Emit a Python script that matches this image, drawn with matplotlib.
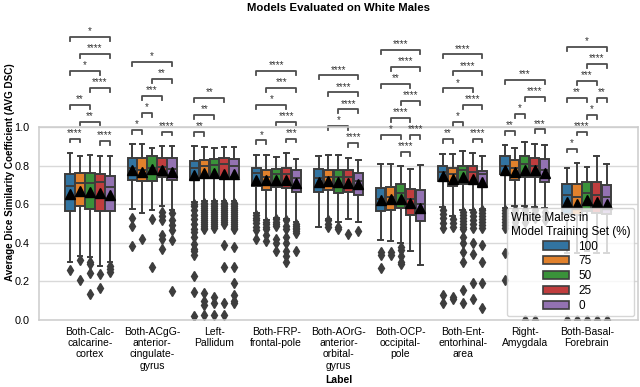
import colorsys
import matplotlib.pyplot as plt
import matplotlib.colors as mcolors
from matplotlib.patches import Patch

plt.rcParams['font.family'] = ['Liberation Sans', 'DejaVu Sans']

labels = ["Both-Calc-\ncalcarine-\ncortex", "Both-ACgG-\nanterior-\ncingulate-\ngyrus",
          "Left-\nPallidum", "Both-FRP-\nfrontal-pole", "Both-AOrG-\nanterior-\norbital-\ngyrus",
          "Both-OCP-\noccipital-\npole", "Both-Ent-\nentorhinal-\narea", "Right-\nAmygdala",
          "Both-Basal-\nForebrain"]
hues = ["100", "75", "50", "25", "0"]
base_colors = ["#1f77b4", "#ff7f0e", "#2ca02c", "#d62728", "#9467bd"]

# box statistics, one row per label, one column per hue
whis_hi = [[0.867, 0.852, 0.858, 0.853, 0.852],
           [0.912, 0.912, 0.895, 0.903, 0.903],
           [0.901, 0.898, 0.895, 0.898, 0.898],
           [0.858, 0.855, 0.846, 0.867, 0.837],
           [0.849, 0.855, 0.855, 0.843, 0.832],
           [0.812, 0.812, 0.798, 0.786, 0.803],
           [0.864, 0.864, 0.877, 0.867, 0.850],
           [0.907, 0.895, 0.924, 0.915, 0.907],
           [0.791, 0.815, 0.794, 0.850, 0.808]]
q3 = [[0.758, 0.763, 0.763, 0.760, 0.748],
      [0.843, 0.839, 0.850, 0.843, 0.839],
      [0.826, 0.833, 0.834, 0.841, 0.834],
      [0.791, 0.781, 0.786, 0.791, 0.781],
      [0.786, 0.777, 0.777, 0.781, 0.763],
      [0.687, 0.691, 0.705, 0.682, 0.673],
      [0.798, 0.791, 0.798, 0.798, 0.774],
      [0.850, 0.832, 0.850, 0.843, 0.837],
      [0.705, 0.705, 0.717, 0.717, 0.700]]
med = [[0.695, 0.710, 0.710, 0.715, 0.690],
       [0.790, 0.780, 0.790, 0.795, 0.785],
       [0.790, 0.800, 0.805, 0.810, 0.800],
       [0.765, 0.745, 0.760, 0.760, 0.735],
       [0.735, 0.740, 0.740, 0.740, 0.720],
       [0.630, 0.640, 0.660, 0.630, 0.600],
       [0.770, 0.760, 0.780, 0.770, 0.760],
       [0.800, 0.790, 0.810, 0.800, 0.780],
       [0.650, 0.640, 0.660, 0.650, 0.640]]
q1 = [[0.566, 0.591, 0.575, 0.566, 0.566],
      [0.725, 0.722, 0.722, 0.743, 0.725],
      [0.734, 0.742, 0.742, 0.745, 0.740],
      [0.694, 0.677, 0.691, 0.687, 0.665],
      [0.665, 0.677, 0.660, 0.665, 0.648],
      [0.566, 0.573, 0.584, 0.544, 0.515],
      [0.722, 0.694, 0.705, 0.705, 0.694],
      [0.756, 0.725, 0.743, 0.743, 0.717],
      [0.550, 0.545, 0.565, 0.555, 0.550]]
whis_lo = [[0.299, 0.332, 0.325, 0.282, 0.299],
           [0.575, 0.558, 0.570, 0.591, 0.573],
           [0.614, 0.618, 0.620, 0.620, 0.617],
           [0.553, 0.518, 0.532, 0.527, 0.509],
           [0.484, 0.527, 0.509, 0.522, 0.509],
           [0.414, 0.411, 0.401, 0.359, 0.285],
           [0.587, 0.539, 0.570, 0.570, 0.578],
           [0.583, 0.590, 0.590, 0.587, 0.580],
           [0.350, 0.350, 0.360, 0.350, 0.350]]
means = [[0.656, 0.668, 0.665, 0.660, 0.647],
         [0.777, 0.770, 0.782, 0.780, 0.770],
         [0.752, 0.763, 0.763, 0.760, 0.756],
         [0.729, 0.725, 0.729, 0.725, 0.711],
         [0.717, 0.722, 0.717, 0.711, 0.704],
         [0.622, 0.630, 0.630, 0.608, 0.584],
         [0.746, 0.734, 0.740, 0.734, 0.717],
         [0.780, 0.768, 0.777, 0.777, 0.763],
         [0.613, 0.601, 0.625, 0.613, 0.604]]
fliers = [
    [[0.26], [0.31, 0.21], [0.30, 0.29, 0.245, 0.135], [0.24, 0.165], [0.28, 0.265, 0.25]],
    [[0.532, 0.487, 0.384], [0.423], [0.527, 0.276],
     [0.56, 0.54, 0.52, 0.44, 0.42, 0.37], [0.556, 0.518, 0.492, 0.466, 0.414, 0.152]],
    [[0.60, 0.59, 0.57, 0.544, 0.522, 0.50, 0.475, 0.458, 0.432, 0.397, 0.371, 0.359, 0.337, 0.228, 0.147, 0.02],
     [0.61, 0.60, 0.59, 0.58, 0.57, 0.56, 0.55, 0.54, 0.53, 0.52, 0.51, 0.50, 0.49, 0.48, 0.47, 0.138, 0.10, 0.078, 0.026],
     [0.61, 0.60, 0.59, 0.58, 0.57, 0.56, 0.55, 0.54, 0.53, 0.52, 0.51, 0.50, 0.49, 0.48, 0.12, 0.086, 0.026],
     [0.61, 0.60, 0.59, 0.58, 0.57, 0.56, 0.55, 0.54, 0.53, 0.52, 0.51, 0.50, 0.391, 0.275, 0.087, 0.026],
     [0.61, 0.60, 0.59, 0.58, 0.57, 0.56, 0.55, 0.54, 0.53, 0.52, 0.51, 0.50, 0.49, 0.48, 0.47, 0.381, 0.275, 0.194, 0.13, 0.10, 0.09]],
    [[0.544, 0.532, 0.518, 0.504, 0.484, 0.466, 0.423], [0.509, 0.497, 0.484, 0.47, 0.44, 0.411],
     [0.525, 0.51, 0.50, 0.49, 0.42, 0.40, 0.36], [0.52, 0.49, 0.47, 0.43, 0.40, 0.36, 0.33, 0.30],
     [0.50, 0.49, 0.48, 0.47, 0.46, 0.45, 0.36]],
    [[], [0.518, 0.501, 0.484], [0.484, 0.47], [0.446], [0.463]],
    [[0.354, 0.337, 0.268], [0.354, 0.337], [0.38, 0.363, 0.332, 0.303, 0.291], [], []],
    [[0.573, 0.552, 0.531, 0.504, 0.48, 0.13, 0.09], [0.527, 0.504, 0.484, 0.12, 0.11],
     [0.56, 0.545, 0.53, 0.515, 0.50, 0.485, 0.47, 0.43, 0.40, 0.355, 0.30, 0.155, 0.086],
     [0.56, 0.54, 0.52, 0.50, 0.48, 0.40, 0.345, 0.19, 0.11],
     [0.57, 0.555, 0.54, 0.525, 0.51, 0.495, 0.48, 0.39, 0.30, 0.19, 0.06]],
    [[0.57, 0.555, 0.54, 0.525, 0.51, 0.495, 0.48, 0.35, 0.21], [0.57, 0.55, 0.53, 0.51, 0.49],
     [0.57, 0.55, 0.53, 0.51, 0.0], [0.57, 0.55, 0.53, 0.0], [0.56, 0.54, 0.52]],
    [[0.0], [0.0], [0.0], [0.0], [0.0]],
]

# significance annotations: (box i, box j, stars), in drawing order
annotations = [
    [(0, 1, "****"), (3, 4, "****"), (1, 3, "**"), (0, 2, "**"), (2, 4, "****"), (0, 3, "*"), (1, 4, "****"), (0, 4, "*")],
    [(0, 1, "*"), (3, 4, "****"), (1, 2, "*"), (1, 3, "***"), (2, 4, "**"), (0, 4, "*")],
    [(0, 1, "**"), (0, 2, "**"), (0, 3, "**")],
    [(0, 1, "*"), (3, 4, "***"), (2, 4, "****"), (0, 3, "*"), (1, 4, "***"), (0, 4, "****")],
    [(3, 4, "****"), (1, 3, "*"), (2, 4, "****"), (1, 4, "****"), (0, 4, "****")],
    [(2, 3, "****"), (0, 2, "*"), (3, 4, "****"), (1, 3, "****"), (2, 4, "****"), (0, 3, "**"), (1, 4, "****"), (0, 4, "****")],
    [(0, 1, "**"), (3, 4, "****"), (1, 2, "*"), (2, 4, "****"), (0, 3, "*"), (1, 4, "****"), (0, 4, "****")],
    [(0, 1, "**"), (3, 4, "***"), (1, 2, "*"), (2, 4, "****"), (0, 4, "***")],
    [(0, 1, "*"), (1, 2, "****"), (2, 3, "*"), (0, 2, "**"), (3, 4, "**"), (1, 3, "***"), (2, 4, "****"), (0, 4, "*")],
]


def desaturate(c, prop=0.75):
    h, l, s = colorsys.rgb_to_hls(*mcolors.to_rgb(c))
    return colorsys.hls_to_rgb(h, l, s * prop)


colors = [desaturate(c) for c in base_colors]
gray = (0.24, 0.24, 0.24)
offsets = [-0.32, -0.16, 0.0, 0.16, 0.32]

fig = plt.figure(figsize=(6.4, 3.87), dpi=100)
ax = fig.add_axes([0.0609, 0.1731, 0.936, 0.4977])

stats, positions, facecols = [], [], []
for g in range(len(labels)):
    for h in range(len(hues)):
        stats.append(dict(whislo=whis_lo[g][h], q1=q1[g][h], med=med[g][h], q3=q3[g][h],
                          whishi=whis_hi[g][h], mean=means[g][h], fliers=fliers[g][h]))
        positions.append(g + offsets[h])
        facecols.append(colors[h])

line_kw = dict(color=gray, linewidth=1.4)
bp = ax.bxp(stats, positions=positions, widths=0.15, patch_artist=True, showmeans=True,
            boxprops=dict(edgecolor=gray, linewidth=1.4),
            whiskerprops=line_kw, capprops=line_kw, medianprops=line_kw,
            meanprops=dict(marker="^", markerfacecolor="black", markeredgecolor="black", markersize=7),
            flierprops=dict(marker="d", markerfacecolor=gray, markeredgecolor=gray, markersize=5))
for patch, fc in zip(bp["boxes"], facecols):
    patch.set_facecolor(fc)

ax.set_xlim(-0.821, 8.824)
ax.set_ylim(0, 1.0)
ax.set_yticks([0.0, 0.2, 0.4, 0.6, 0.8, 1.0])
ax.set_xticks(range(len(labels)))
ax.set_xticklabels(labels, fontsize=7.5, linespacing=1.15)
ax.tick_params(axis="y", labelsize=7.8, length=0, pad=7)
ax.tick_params(axis="x", length=0, pad=5)
ax.yaxis.grid(True, color="0.85", linewidth=1)
ax.set_axisbelow(True)
for sp in ax.spines.values():
    sp.set_color("0.8")
    sp.set_linewidth(1.1)

ax.set_xlabel("Label", fontsize=7.5, fontweight="bold", labelpad=3)
ax.set_ylabel("Average Dice Similarity Coefficient (AVG DSC)", fontsize=7.1, fontweight="bold",
              va="center")
ax.yaxis.set_label_coords(-0.048, 0.77)
fig.text(0.0609 + 0.936 / 2, 0.993, "Models Evaluated on White Males", ha="center", va="top",
         fontsize=8.2, fontweight="bold")

# stacked significance brackets
for g, ann in enumerate(annotations):
    stack = list(whis_hi[g])
    for i, j, txt in ann:
        y = max(stack[i:j + 1]) + 0.075
        x1, x2 = g + offsets[i], g + offsets[j]
        ax.plot([x1, x1, x2, x2], [y - 0.02, y, y, y - 0.02], color="0.3", lw=1.3, clip_on=False)
        ax.annotate(txt, ((x1 + x2) / 2, y), xytext=(0, 0.5), textcoords="offset points",
                    ha="center", va="bottom", fontsize=7, color="0.2", annotation_clip=False)
        for k in range(i, j + 1):
            stack[k] = y + 0.013

handles = [Patch(facecolor=c, edgecolor=gray, linewidth=1.2) for c in colors]
leg = ax.legend(handles, hues, title="White Males in\nModel Training Set (%)", loc="lower right",
                fontsize=8.5, title_fontsize=8.5, borderaxespad=0.3, handlelength=2.2,
                labelspacing=0.25, borderpad=0.35, fancybox=True)
leg.get_frame().set_edgecolor("0.8")

fig.savefig("out.png", dpi=100)
